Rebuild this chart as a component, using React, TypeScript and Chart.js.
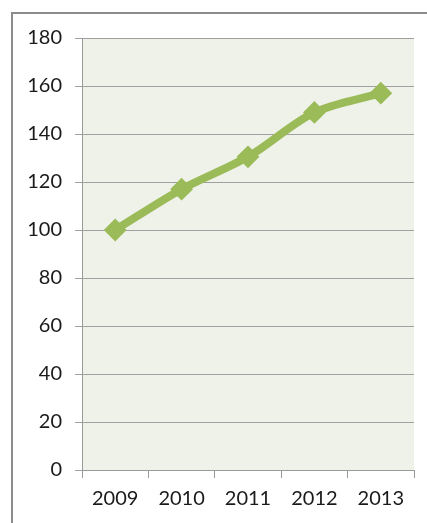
import React, { useEffect, useRef } from "react";
import { Chart, registerables } from "chart.js";

Chart.register(...registerables);

const categories = ["2009", "2010", "2011", "2012", "2013"];
const values = [100, 117, 130.5, 149, 157];
const yMin = 0;
const yMax = 180;
const yStep = 20;

const frameAndBg = {
  id: "frameAndBg",
  beforeDraw(chart: any) {
    const { ctx, chartArea } = chart;
    ctx.save();
    ctx.fillStyle = "#ffffff";
    ctx.fillRect(0, 0, chart.width, chart.height);
    ctx.fillStyle = "#8c8c8c";
    ctx.fillRect(11, 12, 2, chart.height - 12);
    ctx.fillRect(11, 12, chart.width - 11, 2);
    ctx.fillStyle = "#eff2e8";
    ctx.fillRect(chartArea.left, chartArea.top, chartArea.right - chartArea.left, chartArea.bottom - chartArea.top);
    ctx.restore();
  },
};

export default function App() {
  const ref = useRef<HTMLCanvasElement | null>(null);
  useEffect(() => {
    if (!ref.current) return;
    const font = { family: "Lato", size: 20 };
    const chart = new Chart(ref.current, {
      type: "line",
      data: {
        labels: categories,
        datasets: [
          {
            data: values,
            borderColor: "#9bbb59",
            backgroundColor: "#9bbb59",
            borderWidth: 8,
            tension: 0.3,
            pointStyle: "rectRot",
            pointRadius: 10,
            pointBorderWidth: 2,
            pointBackgroundColor: "#9bbb59",
            pointBorderColor: "#9bbb59",
          },
        ],
      },
      options: {
        responsive: false,
        animation: false,
        layout: { padding: { left: 0, top: 38, right: 13, bottom: 0 } },
        plugins: { legend: { display: false }, tooltip: { enabled: false } },
        scales: {
          x: {
            offset: true,
            afterFit: (s: any) => { s.height = 53; },
            grid: {
              offset: true,
              drawOnChartArea: false,
              drawTicks: true,
              tickLength: 8,
              color: "#9a9a9a",
              lineWidth: 1,
            },
            border: { display: true, color: "#9a9a9a", width: 1 },
            ticks: { color: "#1a1a1a", font, padding: 9, maxRotation: 0 },
          },
          y: {
            min: yMin,
            max: yMax,
            afterFit: (s: any) => { s.width = 82; },
            grid: {
              drawTicks: true,
              tickLength: 7,
              color: "#a0a0a0",
              lineWidth: 1,
            },
            border: { display: true, color: "#9a9a9a", width: 1 },
            ticks: { stepSize: yStep, color: "#1a1a1a", font, padding: 13 },
          },
        },
      },
      plugins: [frameAndBg],
    });
    return () => chart.destroy();
  }, []);
  return (
    <div style={{ position: "absolute", left: 0, top: 0, width: 427, height: 523 }}>
      <canvas ref={ref} width={427} height={523} style={{ width: 427, height: 523, display: "block" }} />
    </div>
  );
}
